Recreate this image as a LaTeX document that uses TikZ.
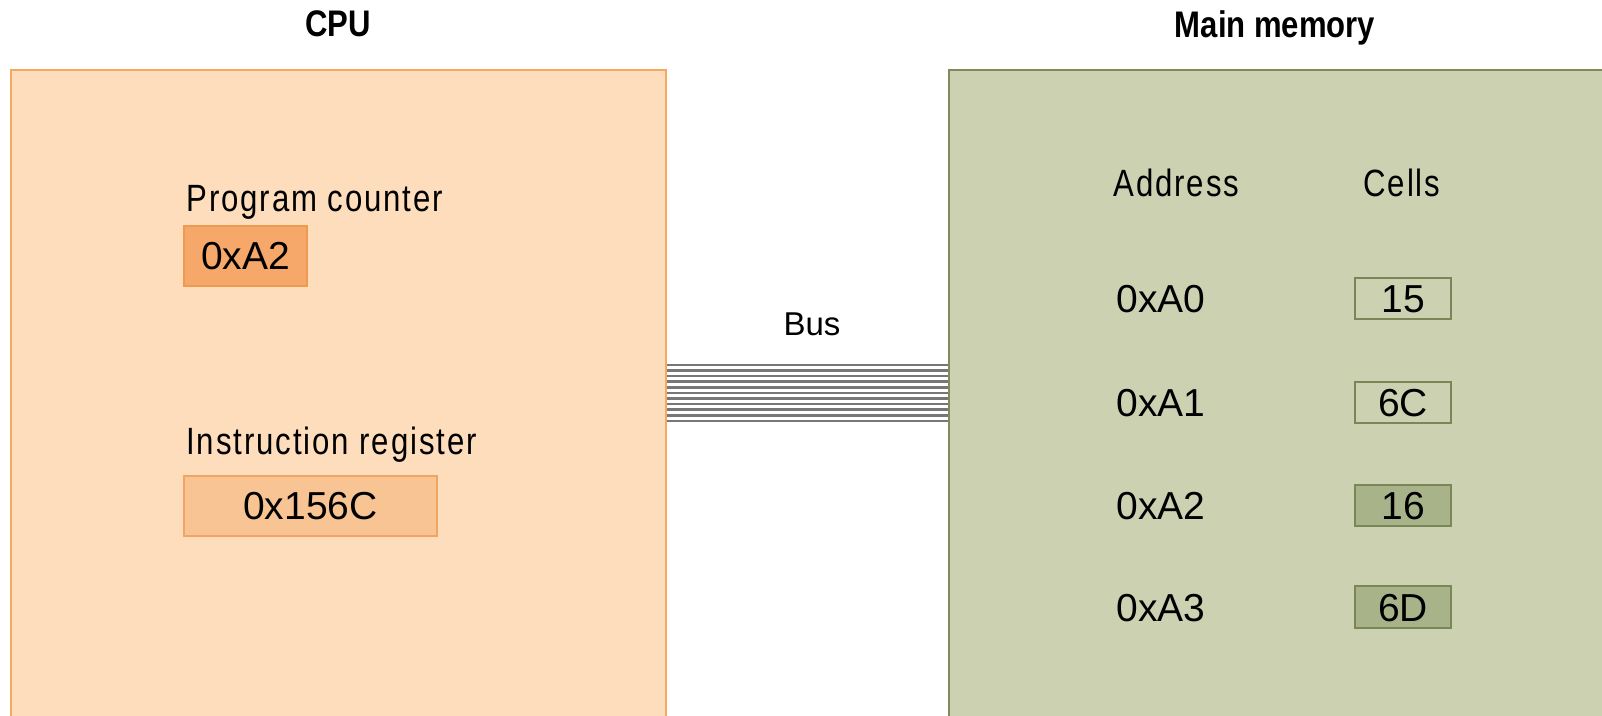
\documentclass[tikz,border=0pt]{standalone}
\usepackage{fontspec}
\setmainfont{Liberation Sans}
\newfontfamily\labelfont[FakeStretch=0.82,LetterSpace=5]{Liberation Sans}
\newfontfamily\titlefont[FakeStretch=0.84]{Liberation Sans}
\definecolor{cpuFill}{HTML}{FDDDBB}
\definecolor{cpuLine}{HTML}{F5A95F}
\definecolor{pcFill}{HTML}{F6A86A}
\definecolor{pcLine}{HTML}{EE9A50}
\definecolor{irFill}{HTML}{F9C493}
\definecolor{irLine}{HTML}{F2A462}
\definecolor{memFill}{HTML}{CCD1B1}
\definecolor{memLine}{HTML}{7F8B5A}
\definecolor{cellDark}{HTML}{A9B38A}
\definecolor{cellLine}{HTML}{7A8656}
\definecolor{busLine}{HTML}{777777}
\tikzset{
  unit/.style={x=0.5pt,y=-0.5pt},
  title/.style={font=\titlefont\bfseries\fontsize{18.5pt}{20pt}\selectfont,anchor=base},
  lbl/.style={font=\labelfont\fontsize{19pt}{21pt}\selectfont,inner sep=0pt},
  val/.style={font=\fontsize{19.5pt}{21pt}\selectfont,inner sep=0pt},
  unitbox/.style={draw,line width=1pt,minimum width=#1,inner sep=0pt,
    text height=14pt,text depth=0pt},
  regbox/.style={unitbox=#1,minimum height=30pt,font=\fontsize{19.5pt}{21pt}\selectfont},
  cellbox/.style={unitbox=48pt,minimum height=20.5pt,draw=cellLine,font=\fontsize{19.5pt}{21pt}\selectfont},
  bus/.style={draw=busLine,line width=1.3pt}
}
\begin{document}
\begin{tikzpicture}[unit]
\clip (0,0) rectangle (1602,716);
\fill[white] (0,0) rectangle (1602,716);

% processor and memory panels
\node[draw=cpuLine,fill=cpuFill,line width=1.2pt,minimum width=327.5pt,minimum height=340pt,inner sep=0pt,anchor=north west] (cpu) at (10,69) {};
\node[draw=memLine,fill=memFill,line width=1.2pt,minimum width=340pt,minimum height=340pt,inner sep=0pt,anchor=north west] (mem) at (948,69) {};

\node[title] (cputitle) at (338,37) {CPU};
\node[title] (memtitle) at (1275,38) {Main memory};

% registers
\node[lbl,anchor=base west] (pclabel) at (186,212) {Program counter};
\node[regbox=61.5pt,draw=pcLine,fill=pcFill] (pc) at (245.5,256) {0xA2};
\node[lbl,anchor=base west] (irlabel) at (186,455) {Instruction register};
\node[regbox=126.5pt,draw=irLine,fill=irFill] (ir) at (310.5,506) {0x156C};

% bus wires
\foreach \k in {0,...,10}{
  \draw[bus] (cpu.east |- 0,{365+5.6*\k}) -- (mem.west |- 0,{365+5.6*\k});
}
\node[font=\fontsize{16.5pt}{18pt}\selectfont,inner sep=0pt,anchor=base] (buslabel) at (812,336) {Bus};

% memory table
\node[lbl,anchor=base west] (addrhead) at (1113,197) {Address};
\node[lbl,anchor=base] (cellhead) at (1402,197) {Cells};

\node[val,anchor=base west] (a0) at (1116,313) {0xA0};
\node[val,anchor=base west] (a1) at (1116,417) {0xA1};
\node[val,anchor=base west] (a2) at (1116,520) {0xA2};
\node[val,anchor=base west] (a3) at (1116,621) {0xA3};

\node[cellbox,fill=memFill] (c0) at (1403,298.5) {15};
\node[cellbox,fill=memFill] (c1) at (1403,403) {6C};
\node[cellbox,fill=cellDark] (c2) at (1403,505.5) {16};
\node[cellbox,fill=cellDark] (c3) at (1403,607) {6D};
\end{tikzpicture}
\end{document}
